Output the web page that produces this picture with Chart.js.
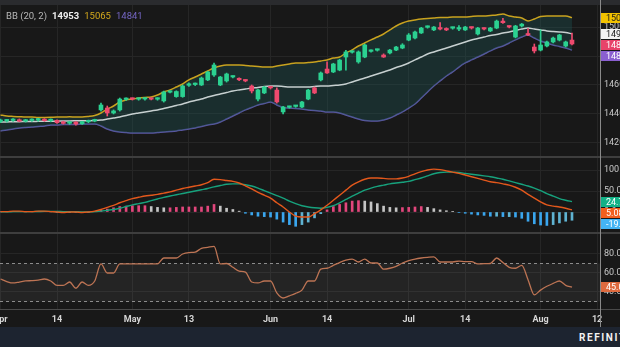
<!DOCTYPE html>
<html><head><meta charset="utf-8">
<script src="https://cdn.jsdelivr.net/npm/chart.js@4.4.1/dist/chart.umd.min.js"></script>
<style>
html,body{margin:0;padding:0;background:#181818;}
#wrap{position:relative;width:620px;height:347px;overflow:hidden;background:#181818;font-family:Roboto,"DejaVu Sans",sans-serif;}
canvas{position:absolute;left:0;}
#top{position:absolute;left:0;top:0;width:620px;height:5px;background:#2a2b2e;}
.sep{position:absolute;left:0;width:620px;height:2px;background:#3e3e3e;}
#vline{position:absolute;left:600px;top:0;width:1px;height:327px;background:#8a8a8a;}
#legend{position:absolute;left:6px;top:10px;font-size:9.5px;color:#b8b8b8;white-space:nowrap;}
#legend span{margin-left:5px;}
#footer{position:absolute;left:0;top:327px;width:620px;height:20px;background:#1d2430;}
#footer span{position:absolute;left:579px;top:5px;color:#f2f2f2;font-size:10px;font-weight:bold;letter-spacing:1.6px;white-space:nowrap;}
</style></head>
<body>
<div id="wrap">
  <div id="top"></div>
  <canvas id="c1" width="620" height="151" style="top:5px"></canvas>
  <div class="sep" style="top:156px"></div>
  <canvas id="c2" width="620" height="74" style="top:158px"></canvas>
  <div class="sep" style="top:232px"></div>
  <canvas id="c3" width="620" height="93" style="top:234px"></canvas>
  <div class="sep" style="top:309px;height:1px;background:#4a4a4a"></div>
  <div id="vline"></div>
  <div id="legend">BB (20, 2)<span id="lgM" style="color:#f0f0f0;font-weight:bold"></span><span id="lgU" style="color:#d4a91c"></span><span id="lgL" style="color:#7566c4"></span></div>
  <div id="footer"><span>REFINITIV</span></div>
</div>
<script>
// ---------- DATA ----------
const dates = [
"04-01","04-04","04-05","04-06","04-07","04-08","04-11","04-12","04-13","04-14","04-15","04-18","04-19","04-20","04-21","04-22","04-25","04-26","04-27","04-28","04-29",
"05-02","05-03","05-04","05-05","05-06","05-09","05-10","05-11","05-12","05-13","05-16","05-17","05-18","05-19","05-20","05-23","05-24","05-25","05-26","05-27","05-30","05-31",
"06-01","06-02","06-03","06-06","06-07","06-08","06-09","06-10","06-13","06-14","06-15","06-16","06-17","06-20","06-21","06-22","06-23","06-24","06-27","06-28","06-29","06-30",
"07-01","07-04","07-05","07-06","07-07","07-08","07-11","07-12","07-13","07-14","07-15","07-18","07-19","07-20","07-21","07-22","07-25","07-26","07-27","07-28","07-29",
"08-01","08-02","08-03","08-04","08-05","08-08"];
const futureDates = ["08-09","08-10","08-11","08-12"];
const tickDates  = ["04-01","04-14","05-02","05-13","06-01","06-14","07-01","07-14","08-01","08-12"];
const tickLabels = ["Apr","14","May","13","Jun","14","Jul","14","Aug","12"];

const open = [
14348,14352,14355,14360,14350,14355,14358,14362,14354,14356,
14342,14336,14344,14332,14346,14352,14428,14441,14407,14428,
14500,14504,14502,14503,14504,14502,14490,14550,14520,14520,
14598,14603,14600,14635,14669,14600,14628,14655,14642,14630,
14593,14503,14545,14583,14565,14414,14446,14452,14448,14503,
14580,14635,14710,14690,14703,14793,14826,14759,14793,14832,
14840,14807,14821,14841,14855,14910,14924,14959,14998,14980,
14988,14988,14992,14986,14980,14994,14952,14988,14973,14993,
15041,15001,14931,15007,14948,14862,14841,14869,14897,14910,
14869,14910];
const high = [
14365,14362,14368,14366,14362,14366,14370,14368,14366,14360,
14350,14350,14348,14350,14358,14364,14476,14455,14428,14510,
14512,14510,14510,14512,14510,14512,14558,14560,14560,14600,
14615,14614,14655,14695,14752,14660,14682,14664,14650,14636,
14600,14570,14590,14592,14580,14452,14454,14460,14488,14570,
14586,14690,14760,14750,14778,14840,14836,14835,14882,14842,
14848,14815,14846,14866,14885,14955,14972,14998,15008,15004,
15030,14995,15000,15010,15005,15000,14998,14995,14998,15048,
15060,15008,15012,15025,14990,14883,14980,14903,14930,14950,
14903,14959];
const low = [
14340,14344,14348,14346,14344,14348,14350,14349,14346,14334,
14330,14328,14322,14328,14340,14346,14420,14386,14400,14420,
14494,14496,14495,14496,14497,14495,14482,14545,14515,14515,
14590,14596,14596,14630,14660,14595,14620,14648,14630,14622,
14545,14490,14540,14572,14475,14400,14440,14446,14444,14498,
14540,14628,14680,14685,14698,14703,14820,14750,14788,14826,
14834,14790,14815,14836,14850,14905,14918,14955,14992,14975,
14980,14975,14985,14975,14976,14986,14945,14980,14968,14988,
15025,14994,14925,15000,14940,14821,14835,14862,14890,14904,
14862,14876];
const close = [
14356,14358,14362,14350,14357,14361,14364,14354,14360,14340,
14335,14345,14330,14347,14354,14360,14462,14407,14421,14503,
14505,14502,14504,14505,14502,14505,14552,14553,14555,14593,
14606,14608,14648,14690,14738,14655,14676,14658,14636,14628,
14559,14566,14586,14580,14483,14448,14449,14455,14483,14565,
14545,14683,14683,14745,14772,14828,14830,14828,14876,14836,
14842,14793,14841,14862,14876,14945,14966,14993,15001,15000,
14986,14980,14994,14988,15000,14993,14993,14986,14993,15041,
15030,15000,15007,15020,14945,14835,14876,14897,14924,14945,
14897,14883];

const bbUpper = [
14393,14386,14383,14381,14379,14379,14376,14376,14377,14379,
14379,14380,14379,14379,14383,14390,14407,14434,14455,14483,
14497,14503,14510,14514,14517,14531,14552,14566,14586,14607,
14635,14655,14676,14697,14717,14731,14738,14738,14738,14735,
14731,14728,14724,14724,14731,14738,14745,14752,14752,14755,
14759,14766,14773,14786,14793,14821,14842,14869,14890,14911,
14931,14952,14980,15007,15028,15042,15049,15055,15059,15062,
15066,15066,15069,15069,15069,15073,15076,15076,15080,15083,
15090,15076,15069,15062,15042,15055,15073,15076,15076,15076,
15076,15065];
const bbMid = [
14345,14345,14347,14347,14348,14348,14349,14350,14350,14351,
14352,14352,14353,14354,14354,14355,14358,14365,14372,14379,
14390,14400,14407,14414,14421,14428,14438,14448,14459,14469,
14483,14493,14503,14517,14528,14538,14548,14559,14566,14572,
14579,14583,14590,14593,14593,14590,14586,14586,14586,14586,
14590,14593,14593,14597,14600,14607,14621,14635,14648,14662,
14676,14690,14704,14721,14735,14752,14773,14793,14814,14828,
14842,14855,14869,14883,14897,14911,14921,14931,14942,14948,
14959,14966,14976,14986,14993,14986,14980,14973,14969,14966,
14962,14953];
const bbLower = [
14283,14290,14296,14303,14307,14310,14314,14317,14324,14324,
14328,14328,14328,14331,14331,14331,14317,14296,14283,14276,
14272,14269,14269,14269,14269,14272,14276,14279,14283,14290,
14296,14303,14314,14324,14331,14345,14365,14386,14407,14428,
14445,14462,14472,14483,14462,14445,14441,14438,14434,14428,
14424,14421,14414,14414,14407,14393,14379,14365,14355,14352,
14352,14359,14372,14393,14414,14441,14469,14510,14552,14593,
14628,14662,14690,14724,14752,14773,14793,14814,14835,14855,
14869,14890,14911,14931,14945,14924,14904,14890,14876,14866,
14855,14841];

const macdLine = [
1,1,2,2,1,1,2,2,1,0,
-1,0,0,-1,0,2,6,11,16,22,
27,32,35,38,40,42,45,48,52,56,
59,62,65,70,78,77,75,73,69,62,
55,47,40,33,22,12,0,-10,-12,-12,
-4,5,16,28,40,52,64,72,78,81,
81,80,79,79,81,85,91,96,100,102,
101,98,95,92,88,84,80,76,72,70,
67,64,59,52,42,33,24,17,14,12,
9,5.08];
const signalLine = [
0.5,0.6,0.8,1,1,1,1.2,1.4,1.4,1.2,
1,0.8,0.6,0.4,0.3,1,2,4,6,9,
13,17,20,23,27,31,35,38,41,44,
47,50,53,56,60,63,66,67,67,65,
62,57,51,45,39,33,26,20,15,12,
10,9,11,15,22,30,38,45,52,57,
61,64,67,69,71,73,77,81,86,91,
94,95,95,94,92,90,88,86,84,81,
78,74,70,66,62,57,51,44,38,32,
28,24.7];
const histogram = [
0.5,0.5,1,1,0.5,0.5,1,1,0.5,-0.5,
-1,-0.5,-0.5,-1,-0.5,1,4,7,10,13,
14,15,15,15,13,11,10,10,11,12,
12,12,12,14,18,14,9,6,2,-3,
-7,-10,-11,-12,-17,-24,-30,-34,-30,-24,
-14,-4,5,13,18,22,26,27,26,24,
20,14,11,10,10.5,11,12,13,11,8,
5,3,1.5,-1,-3,-5,-7,-8,-10,-10,
-11,-11,-12,-15,-22,-28,-31,-32,-30,-26,
-22,-19.62];

const rsi = [
53.7,51,49.5,50.5,51.6,52,52.6,53.7,51.6,47,
47,50.5,44,50.5,47,51.6,69.5,60,60,69.5,
69.5,69.5,69.5,69.5,69.5,69.5,75.8,75.8,75.8,80,
81.5,82,86,87,88,69.5,70,66,62,61,
50.5,49.5,51.6,51.6,39,33.7,36,38.6,42,51.6,
51.6,64,65,68,71,73.5,74.7,71.6,74.7,70.5,
70.5,64,65,67,70.5,73,74.7,75.8,76.5,77,
71.6,71.6,71.6,72.6,72,72,69.5,69.8,70,75.8,
71,66,65,68,53,37,42,46,49,51.6,
47,45];

const priceTicks = [14200,14400,14600,14800,15000];
const macdTicks = [0,50,100];
const rsiTicks = [40,60,80];
const rsiBounds = [30,70];

// ---------- SETUP ----------
Chart.defaults.font.family = 'Roboto, "DejaVu Sans", sans-serif';
Chart.defaults.animation = false;
const allDates = dates.concat(futureDates);
const tickIdx = tickDates.map(d => allDates.indexOf(d));
const idx = dates.map((d,i)=>i);
const X_MIN = -0.08, X_MAX = 95.46;
const GRID = '#262626';
const UP = '#2bd191', DOWN = '#ee4a6e';

function xScale(showTicks){
  return {
    type:'linear', min:X_MIN, max:X_MAX, offset:false,
    afterBuildTicks: s => { s.ticks = tickIdx.map(v => ({value:v})); },
    ticks:{display:showTicks, autoSkip:false, maxRotation:0, padding:5, color:'#d6d6d6',
      font:{size:9, weight:'bold'},
      callback:(v)=>{ const k = tickIdx.indexOf(v); return k>=0 ? tickLabels[k] : ''; }},
    grid:{color:GRID, drawTicks:false, offset:false},
    border:{display:false},
    afterFit: s => { s.height = showTicks ? 18 : 0; s.paddingLeft = 0; s.paddingRight = 0; }
  };
}
function yScale(min,max,ticks,fmt){
  return {
    position:'right', min, max,
    afterBuildTicks: s => { s.ticks = ticks.map(v=>({value:v})); },
    ticks:{color:'#c8c8c8', padding:4, font:{size:9}, callback:fmt},
    grid:{color:GRID, drawTicks:false},
    border:{display:false},
    afterFit: s => { s.width = 20; s.paddingTop = 0; s.paddingBottom = 0; }
  };
}

const boxPlugin = {
  id:'valueBoxes',
  afterDraw(chart, args, opts){
    const ys = chart.scales.y, ctx = chart.ctx, h = 10;
    const items = opts.items.map(it => Object.assign({}, it, {py: ys.getPixelForValue(it.value)}));
    items.sort((a,b)=>a.py-b.py);
    let last = -1e9;
    items.forEach(it => { let t = it.py - h/2; if (t < last) t = last; it.top = t; last = t + h + 1; });
    ctx.save();
    ctx.font = '9px Roboto, "DejaVu Sans", sans-serif';
    ctx.textBaseline = 'middle'; ctx.textAlign = 'left';
    const x0 = chart.chartArea.right + 1;
    items.forEach(it => {
      ctx.fillStyle = it.bg; ctx.fillRect(x0, Math.round(it.top), 40, h);
      ctx.fillStyle = it.fg; ctx.fillText(it.text, x0 + 5, Math.round(it.top) + h/2 + 0.5);
    });
    ctx.restore();
  }
};

const rsiBand = {
  id:'rsiBand',
  beforeDatasetsDraw(chart){
    const {ctx, chartArea:a, scales:{y}} = chart;
    const yHi = y.getPixelForValue(rsiBounds[1]), yLo = y.getPixelForValue(rsiBounds[0]);
    ctx.save();
    ctx.fillStyle = 'rgba(255,255,255,0.055)';
    ctx.fillRect(a.left, yHi, a.right - a.left, yLo - yHi);
    ctx.setLineDash([3,3]); ctx.strokeStyle = '#8c8c8c'; ctx.lineWidth = 1;
    [yHi, yLo].forEach(v => { ctx.beginPath(); ctx.moveTo(a.left, Math.round(v)+0.5); ctx.lineTo(a.right, Math.round(v)+0.5); ctx.stroke(); });
    ctx.restore();
  }
};

const last = a => a[a.length-1];
document.getElementById('lgM').textContent = last(bbMid);
document.getElementById('lgU').textContent = last(bbUpper);
document.getElementById('lgL').textContent = last(bbLower);

const candleColor = c => close[c.dataIndex] >= open[c.dataIndex] ? UP : DOWN;
const lineDs = (data, color, extra) => Object.assign({
  type:'line', data: idx.map(i=>({x:i, y:data[i]})), borderColor:color, borderWidth:1.5,
  pointRadius:0, tension:0.3, cubicInterpolationMode:'monotone'
}, extra||{});
const layout = {padding:0, autoPadding:false};

// ---------- PRICE ----------
new Chart(document.getElementById('c1'), {
  type:'bar',
  data:{datasets:[
    lineDs(bbUpper, '#c9a21f', {fill:2, backgroundColor:'rgba(30,86,86,0.36)', order:3}),
    lineDs(bbMid, '#c7d0d0', {order:2}),
    lineDs(bbLower, '#5d58a6', {order:4}),
    {type:'bar', data: idx.map(i=>({x:i, y:[low[i], high[i]]})), backgroundColor:candleColor,
     barThickness:1, grouped:false, minBarLength:1, order:1},
    {type:'bar', data: idx.map(i=>({x:i, y:[open[i], close[i]]})), backgroundColor:candleColor,
     barThickness:4, grouped:false, minBarLength:1.5, order:0}
  ]},
  options:{
    responsive:false, devicePixelRatio:1, layout,
    plugins:{legend:{display:false}, tooltip:{enabled:false},
      valueBoxes:{items:[
        {value:last(bbUpper), text:String(last(bbUpper)), bg:'#f2c200', fg:'#1a1a1a'},
        {value:last(bbMid), text:String(last(bbMid)), bg:'#f4f4f4', fg:'#1a1a1a'},
        {value:last(close), text:String(last(close)), bg:'#e8436a', fg:'#ffffff'},
        {value:last(bbLower), text:String(last(bbLower)), bg:'#8a5fd0', fg:'#ffffff'}
      ]}},
    scales:{ x:xScale(false), y:yScale(14110, 15152, priceTicks, v=>String(v)) }
  },
  plugins:[boxPlugin]
});

// ---------- MACD ----------
const histColor = c => {
  const i = c.dataIndex, v = histogram[i], p = i>0 ? histogram[i-1] : 0;
  if (v >= 0) return v >= p ? '#e2467c' : '#c4c4c4';
  return v < p ? '#3aa6ee' : '#5fb3d2';
};
new Chart(document.getElementById('c2'), {
  type:'bar',
  data:{datasets:[
    lineDs(macdLine, '#e3581c', {borderWidth:1.4, order:0}),
    lineDs(signalLine, '#17a27d', {borderWidth:1.4, order:1}),
    {type:'bar', data: idx.map(i=>({x:i, y:histogram[i]})), backgroundColor:histColor,
     barThickness:2, grouped:false, order:2}
  ]},
  options:{
    responsive:false, devicePixelRatio:1, layout,
    plugins:{legend:{display:false}, tooltip:{enabled:false},
      valueBoxes:{items:[
        {value:last(signalLine), text:last(signalLine).toFixed(2), bg:'#13b187', fg:'#ffffff'},
        {value:last(macdLine), text:last(macdLine).toFixed(2), bg:'#f25f1e', fg:'#ffffff'},
        {value:last(histogram), text:last(histogram).toFixed(2), bg:'#44b4f4', fg:'#ffffff'}
      ]}},
    scales:{ x:xScale(false), y:yScale(-47.6, 128.6, macdTicks, v=>v.toFixed(1)) }
  },
  plugins:[boxPlugin]
});

// ---------- RSI ----------
new Chart(document.getElementById('c3'), {
  type:'line',
  data:{datasets:[
    lineDs(rsi, '#bd7454', {borderWidth:1.3, tension:0})
  ]},
  options:{
    responsive:false, devicePixelRatio:1, layout,
    plugins:{legend:{display:false}, tooltip:{enabled:false},
      valueBoxes:{items:[
        {value:last(rsi), text:last(rsi).toFixed(2), bg:'#de6a3e', fg:'#ffffff'}
      ]}},
    scales:{ x:xScale(true), y:yScale(22.1, 101.05, rsiTicks, v=>v.toFixed(1)) }
  },
  plugins:[rsiBand, boxPlugin]
});
</script>
</body></html>
